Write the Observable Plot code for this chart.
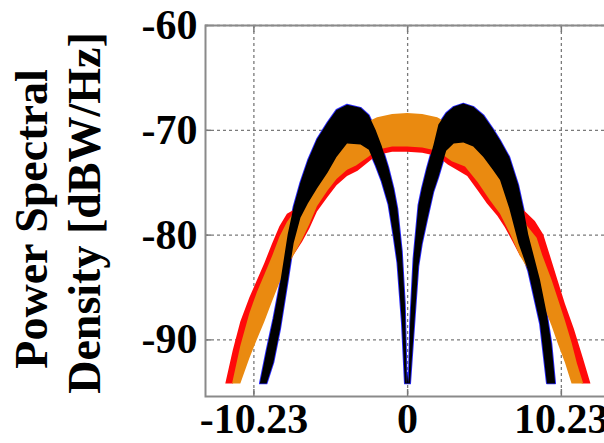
<!DOCTYPE html>
<html>
<head>
<meta charset="utf-8">
<script src="https://cdn.jsdelivr.net/npm/d3@7"></script>
<script src="https://cdn.jsdelivr.net/npm/@observablehq/plot@0.6"></script>
<style>
  html, body { margin: 0; padding: 0; background: #fff; overflow: hidden; width: 604px; height: 443px; }
  #chart { width: 604px; height: 443px; overflow: hidden; }
  #chart svg { max-width: none !important; }
</style>
</head>
<body>
<div id="chart"></div>
<script>
// ---- tick labels ----
const xTicks = [-10.23, 0, 10.23];
const yTicks = [-60, -70, -80, -90];

// ---- red series (band: upper / lower edge, dBW/Hz) ----
const redX  = [-12.1, -11.6, -11.1, -10.5, -10.0, -9.5, -9.0, -8.5, -8.0, -7.5, -7.0, -6.5, -6.0, -5.3, -4.7, -4.0, -3.3, -2.6, -2.0, -1.0, 0,
               1.0, 2.0, 2.7, 3.3, 4.0, 4.7, 5.3, 6.0, 6.5, 7.0, 7.5, 7.85, 8.5, 9.06, 9.5, 10.0, 10.5, 11.1, 11.7, 12.2];
const redHi = [-94.2, -91.0, -88.3, -86.0, -84.35, -82.7, -80.9, -79.2, -78.0, -77.6, -76.0, -74.7, -73.5, -72.3, -71.4, -70.6, -69.9, -69.4, -69.0, -68.8, -68.7,
               -68.8, -69.0, -69.4, -69.9, -70.6, -71.4, -72.3, -73.5, -74.7, -76.0, -77.4, -77.8, -78.7, -80.0, -82.0, -84.3, -86.6, -89.0, -91.8, -94.2];
const redLo = [-94.2, -94.2, -93.5, -91.3, -89.5, -87.8, -86.0, -84.3, -83.0, -81.8, -80.7, -79.4, -77.8, -76.4, -75.3, -74.4, -73.9, -73.1, -72.4, -72.1, -72.1,
               -72.2, -72.5, -73.3, -73.8, -74.4, -75.8, -77.0, -78.2, -79.3, -80.6, -82.0, -82.6, -84.4, -86.0, -87.9, -89.8, -91.7, -94.0, -94.2, -94.2];

// ---- orange series ----
const orangeX  = [-11.65, -11.1, -10.5, -10.0, -9.5, -9.0, -8.5, -8.0, -7.5, -7.0, -6.5, -6.0, -5.3, -4.7, -4.0, -3.4, -2.6, -2.0, -1.0, 0,
                  1.0, 2.0, 2.97, 3.85, 4.7, 5.5, 6.18, 6.84, 7.5, 8.0, 8.62, 9.0, 9.61, 10.0, 10.5, 10.94, 11.3, 11.72];
const orangeHi = [-94.2, -90.6, -87.5, -85.5, -83.8, -82.1, -80.2, -78.8, -77.8, -76.2, -75.0, -74.0, -72.7, -71.8, -70.7, -69.9, -69.2, -68.8, -68.5, -68.4,
                  -68.5, -68.8, -69.6, -70.6, -71.8, -73.0, -74.3, -76.0, -77.8, -79.2, -80.3, -82.0, -84.3, -86.0, -88.2, -90.3, -92.3, -94.2];
const orangeLo = [-94.2, -94.2, -91.8, -90.0, -88.3, -86.4, -84.6, -83.1, -81.8, -80.5, -79.0, -77.3, -75.8, -74.7, -73.8, -73.4, -72.6, -71.9, -71.6, -71.6,
                  -71.7, -72.0, -73.0, -73.5, -75.0, -76.7, -78.0, -79.9, -82.0, -83.2, -85.0, -86.5, -88.7, -90.3, -92.2, -94.2, -94.2, -94.2];

// ---- black series (blue drawn as its fringe) ----
const blackX  = [-9.8, -9.35, -8.9, -8.45, -7.95, -7.55, -7.1, -6.6, -6.0, -5.3, -4.7, -4.0, -3.1, -2.55, -2.1, -1.7, -1.25, -0.9, -0.65, -0.35, -0.15, -0.02, 0.04,
                 0.1, 0.2, 0.42, 0.75, 0.98, 1.31, 1.75, 2.08, 2.6, 3.1, 3.74, 4.4, 5.07, 5.7, 6.18, 6.8, 7.4, 7.75, 8.06, 8.84, 9.3, 9.6, 9.85];
const blackHi = [-94.2, -91.0, -88.0, -84.6, -80.0, -77.3, -75.0, -72.9, -70.9, -69.3, -68.1, -67.6, -67.9, -68.6, -70.0, -71.5, -73.6, -75.6, -77.5, -81.6, -86.6, -94.2, -93.2,
                 -94.2, -88.4, -82.3, -77.2, -75.6, -73.7, -71.45, -69.5, -68.4, -67.8, -67.5, -67.8, -68.6, -69.9, -71.0, -72.6, -75.3, -77.6, -80.0, -84.3, -87.6, -90.4, -94.2];
const blackLo = [-94.2, -94.2, -92.2, -89.0, -84.5, -80.8, -78.4, -77.0, -75.6, -74.1, -72.6, -71.3, -71.4, -71.9, -73.4, -74.9, -77.1, -80.2, -82.7, -88.4, -94.2, -94.2, -94.2,
                 -94.2, -94.2, -89.7, -83.0, -80.9, -78.7, -75.9, -74.5, -72.0, -71.3, -71.2, -71.6, -72.6, -73.8, -74.8, -77.5, -80.8, -82.2, -83.5, -88.5, -94.2, -94.2, -94.2];

const band = (xs, hi, lo) => xs.map((x, i) => ({x, hi: hi[i], lo: lo[i]}));
const red = band(redX, redHi, redLo);
const orange = band(orangeX, orangeHi, orangeLo);
const black = band(blackX, blackHi, blackLo);

const W = 620, H = 443, mT = 25, mB = 47, mL = 205, mR = 10;
const plotH = H - mT - mB, plotW = W - mL - mR;
const gridStyle = {stroke: "#7a7a7a", strokeWidth: 1.3, strokeDasharray: "3,3"};

const svg = Plot.plot({
  width: W, height: H,
  marginTop: mT, marginBottom: mB, marginLeft: mL, marginRight: mR,
  style: {fontFamily: "'Liberation Serif', 'DejaVu Serif', serif", fontSize: "42px", fontWeight: "bold", color: "#000", background: "#fff", overflow: "visible", maxWidth: "none"},
  x: {domain: [-13.45, 13.5], ticks: xTicks, tickFormat: d => String(d), tickSize: 0, tickPadding: 7, label: null},
  y: {domain: [-95.4, -60], ticks: yTicks, tickFormat: d => String(d), tickSize: 0, tickPadding: 8, label: null},
  marks: [
    Plot.ruleX(xTicks, gridStyle),
    Plot.ruleY(yTicks, gridStyle),
    Plot.areaY(black, {x: "x", y1: "lo", y2: "hi", fill: "none", stroke: "#2a2aff", strokeWidth: 1.8}),
    Plot.areaY(red, {x: "x", y1: "lo", y2: "hi", fill: "#ff0a0a"}),
    Plot.areaY(orange, {x: "x", y1: "lo", y2: "hi", fill: "#ea8a10"}),
    Plot.areaY(black, {x: "x", y1: "lo", y2: "hi", fill: "#000"}),
    Plot.ruleX(xTicks, {stroke: "#777", strokeWidth: 1.5, insetBottom: plotH - 7}),
    Plot.ruleX(xTicks, {stroke: "#777", strokeWidth: 1.5, insetTop: plotH - 7}),
    Plot.ruleY(yTicks, {stroke: "#777", strokeWidth: 1.5, insetRight: plotW - 6}),
    Plot.frame({stroke: "#8a8a8a", strokeWidth: 2})
  ]
});
svg.style.maxWidth = "none";
svg.setAttribute("width", W);
svg.setAttribute("height", H);

const s = d3.select(svg);
const title = [
  {text: "Power Spectral", x: 47, y: 219},
  {text: "Density [dBW/Hz]", x: 100, y: 213}
];
s.selectAll("text.ytitle").data(title).join("text")
  .attr("class", "ytitle")
  .attr("transform", d => `translate(${d.x},${d.y}) rotate(-90)`)
  .attr("text-anchor", "middle")
  .attr("font-family", "'Liberation Serif', 'DejaVu Serif', serif")
  .attr("font-size", 46)
  .attr("font-weight", "bold")
  .attr("fill", "#000")
  .text(d => d.text);

document.getElementById("chart").appendChild(svg);
</script>
</body>
</html>
